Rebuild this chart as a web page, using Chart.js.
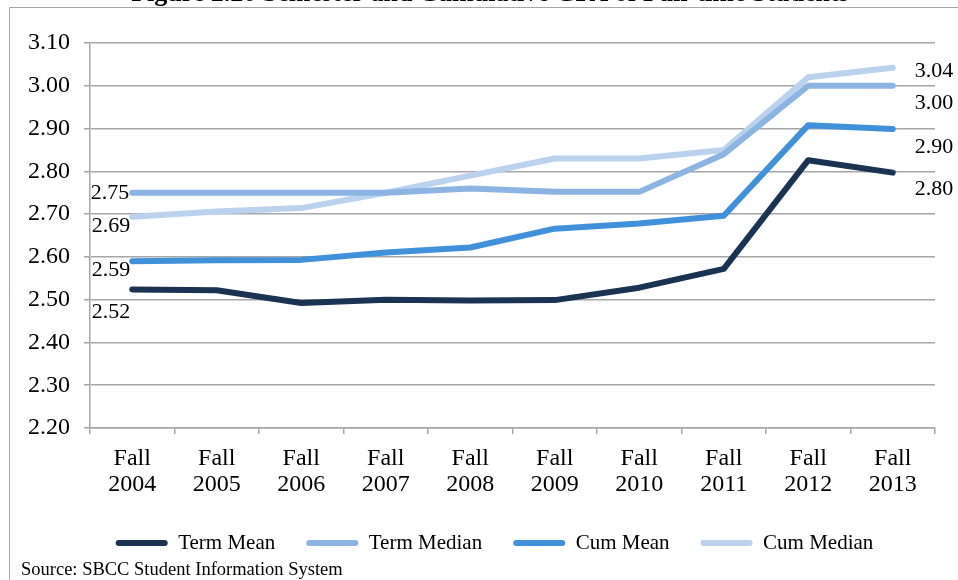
<!DOCTYPE html>
<html>
<head>
<meta charset="utf-8">
<script src="https://cdn.jsdelivr.net/npm/chart.js@4/dist/chart.umd.min.js"></script>
<style>
  html, body { margin: 0; padding: 0; background: #fff; }
  #wrap { width: 958px; height: 580px; position: relative; }
</style>
</head>
<body>
<div id="wrap"><canvas id="gpa"></canvas></div>
<script>
// Figure 2.20 data
const years = ['2004', '2005', '2006', '2007', '2008', '2009', '2010', '2011', '2012', '2013'];
const termMean   = [2.524, 2.522, 2.492, 2.500, 2.498, 2.499, 2.528, 2.572, 2.826, 2.797];
const termMedian = [2.750, 2.750, 2.750, 2.750, 2.760, 2.752, 2.752, 2.840, 3.000, 3.000];
const cumMean    = [2.590, 2.592, 2.593, 2.610, 2.622, 2.666, 2.678, 2.696, 2.908, 2.899];
const cumMedian  = [2.694, 2.706, 2.714, 2.750, 2.790, 2.830, 2.830, 2.850, 3.020, 3.042];
const yTicks = [2.20, 2.30, 2.40, 2.50, 2.60, 2.70, 2.80, 2.90, 3.00, 3.10];

const SERIF = '"Liberation Serif", "Times New Roman", serif';
const GRID = '#a6a6a6';

// first / last value labels, offsets tuned by eye
const endLabels = [
    { first: { dx: -2, dy: 23 }, last: { dx: 22, dy: 17 } },
    { first: { dx: -3, dy: 0 },  last: { dx: 22, dy: 17 } },
    { first: { dx: -2, dy: 9 },  last: { dx: 22, dy: 18 } },
    { first: { dx: -2, dy: 10 }, last: { dx: 22, dy: 3 } },
];

const frameAndText = {
    id: 'frameAndText',
    afterLayout(chart) {
        // the source legend sits a bit right of centre
        chart.legend.left += 27;
        chart.legend.right += 27;
    },
    beforeDraw(chart) {
        const c = chart.ctx;
        c.save();
        c.fillStyle = '#fff';
        c.fillRect(0, 0, chart.width, chart.height);
        c.strokeStyle = GRID;
        c.lineWidth = 1;
        c.beginPath();
        c.moveTo(9.5, chart.height + 5);
        c.lineTo(9.5, 7.5);
        c.lineTo(chart.width + 5, 7.5);
        c.stroke();
        c.restore();
    },
    afterDraw(chart) {
        const c = chart.ctx;
        c.save();
        // title, cropped at the top edge like the source
        c.fillStyle = '#000';
        c.font = 'bold 26px ' + SERIF;
        c.textAlign = 'center';
        c.textBaseline = 'alphabetic';
        c.fillText('Figure 2.20 Semester and Cumulative GPA of Full-time Students', 490, 1);

        c.font = '18.5px ' + SERIF;
        c.textAlign = 'left';
        c.textBaseline = 'middle';
        c.fillText('Source: SBCC Student Information System', 21, 570);

        // value labels at both ends of each line
        c.font = '22px ' + SERIF;
        chart.data.datasets.forEach((ds, i) => {
            const pts = chart.getDatasetMeta(i).data;
            const cfg = endLabels[i];
            const p0 = pts[0], pN = pts[pts.length - 1];
            c.textAlign = 'right';
            c.fillText(ds.data[0].toFixed(2), p0.x + cfg.first.dx, p0.y + cfg.first.dy);
            c.textAlign = 'left';
            c.fillText(ds.data[ds.data.length - 1].toFixed(2), pN.x + cfg.last.dx, pN.y + cfg.last.dy);
        });
        c.restore();
    }
};

function series(label, data, color) {
    return {
        label: label,
        data: data,
        borderColor: color,
        backgroundColor: color,
        borderWidth: 6,
        borderCapStyle: 'round',
        borderJoinStyle: 'round',
        pointRadius: 0,
        pointHoverRadius: 0,
        tension: 0,
        fill: false,
    };
}

new Chart(document.getElementById('gpa'), {
    type: 'line',
    data: {
        labels: years.map(y => ['Fall', y]),
        datasets: [
            series('Term Mean', termMean, '#1a3352'),
            series('Term Median', termMedian, '#8cb4e2'),
            series('Cum Mean', cumMean, '#4190da'),
            series('Cum Median', cumMedian, '#bad2ee'),
        ]
    },
    options: {
        responsive: true,
        maintainAspectRatio: false,
        animation: false,
        layout: { padding: { top: 43, right: 23, bottom: 16.5, left: 0 } },
        plugins: {
            title: { display: false },
            tooltip: { enabled: false },
            legend: {
                position: 'bottom',
                labels: {
                    color: '#000',
                    font: { family: SERIF, size: 21 },
                    boxWidth: 52,
                    boxHeight: 6,
                    padding: 31,
                    useBorderRadius: true,
                    borderRadius: 3,
                    generateLabels(chart) {
                        return chart.data.datasets.map((ds, i) => ({
                            text: ds.label,
                            fillStyle: ds.borderColor,
                            strokeStyle: ds.borderColor,
                            lineWidth: 0,
                            fontColor: '#000',
                            datasetIndex: i,
                            borderRadius: 3,
                        }));
                    }
                }
            }
        },
        scales: {
            x: {
                offset: true,
                afterFit(scale) { scale.height = 73.5; },
                grid: {
                    offset: true,
                    drawOnChartArea: false,
                    drawTicks: true,
                    tickLength: 6,
                    color: GRID,
                    lineWidth: 1.5,
                },
                border: { color: GRID, width: 1.5 },
                ticks: {
                    color: '#000',
                    font: { family: SERIF, size: 24, lineHeight: 1.08 },
                    padding: 12,
                    maxRotation: 0,
                    autoSkip: false,
                }
            },
            y: {
                min: yTicks[0],
                max: yTicks[yTicks.length - 1],
                afterFit(scale) { scale.width = 90; },
                afterBuildTicks(scale) { scale.ticks = yTicks.map(v => ({ value: v })); },
                grid: {
                    color: GRID,
                    lineWidth: 1.5,
                    drawTicks: true,
                    tickLength: 6,
                },
                border: { color: GRID, width: 1.5 },
                ticks: {
                    color: '#000',
                    font: { family: SERIF, size: 24 },
                    padding: 14,
                    callback: v => Number(v).toFixed(2),
                }
            }
        }
    },
    plugins: [frameAndText]
});
</script>
</body>
</html>
